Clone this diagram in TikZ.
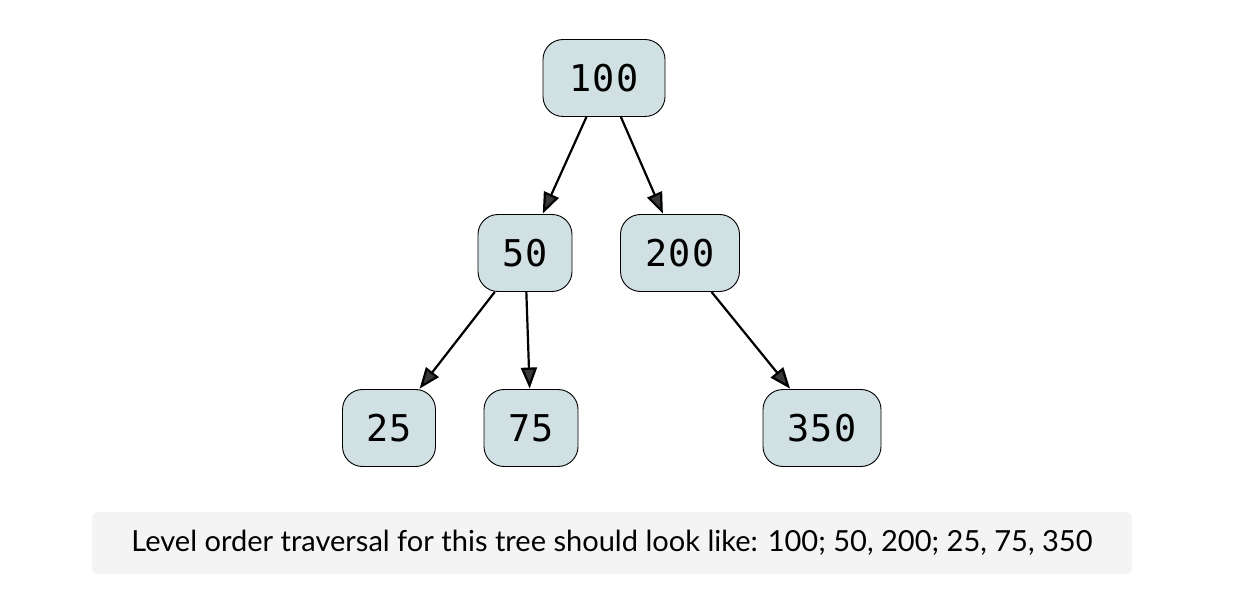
\documentclass[tikz,border=0pt]{standalone}
\usepackage{fontspec}
\setmainfont{Lato}
\newfontfamily\nodefont[LetterSpace=4]{DejaVu Sans Mono}
\usetikzlibrary{arrows.meta}
\definecolor{nodefill}{HTML}{D0E0E3}
\definecolor{capfill}{HTML}{F4F4F4}
\tikzset{
  treenode/.style={draw=black, line width=0.9bp, fill=nodefill, rounded corners=20bp,
    minimum height=77bp, inner sep=0pt, font=\nodefont\fontsize{37}{40}\selectfont},
  edge/.style={draw=black, line width=2.2bp,
    -{Triangle[length=21bp,width=16bp,fill=black!78]}, shorten >=0.5bp}
}
\begin{document}
\begin{tikzpicture}[x=1bp,y=-1bp]
\useasboundingbox (0,0) rectangle (1242,602);
\node[treenode, minimum width=122bp] (n100) at (604,78) {100};
\node[treenode, minimum width=94bp] (n50) at (525,253) {50};
\node[treenode, minimum width=119bp] (n200) at (680,253) {200};
\node[treenode, minimum width=93bp] (n25) at (389,428) {25};
\node[treenode, minimum width=94bp] (n75) at (531,428) {75};
\node[treenode, minimum width=118bp] (n350) at (822,428) {350};
\draw[edge] (n100) -- (n50);
\draw[edge] (n100) -- (n200);
\draw[edge] (n50) -- (n25);
\draw[edge] (n50) -- (n75);
\draw[edge] (n200) -- (n350);
\node[fill=capfill, rounded corners=6bp, minimum width=1040bp, minimum height=62bp, inner sep=0pt] (cap) at (612,543)
  {\resizebox{961bp}{!}{Level order traversal for this tree should look like: 100; 50, 200; 25, 75, 350}};
\end{tikzpicture}
\end{document}
